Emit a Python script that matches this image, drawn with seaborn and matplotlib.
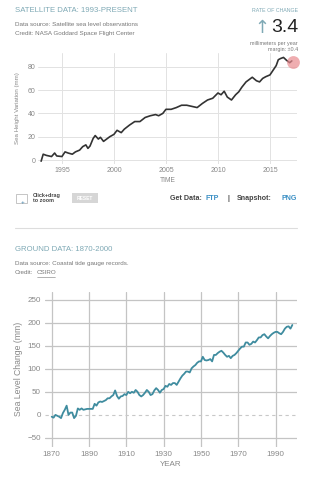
import matplotlib
matplotlib.use("Agg")
import matplotlib.pyplot as plt
import seaborn as sns
import pandas as pd
from matplotlib.patches import Rectangle

sns.set_theme(style="white")
plt.rcParams['font.family'] = ['Liberation Sans', 'DejaVu Sans']

# ---------------- data ----------------
sat_years = [1993.0, 1993.2, 1993.5, 1994.0, 1994.3, 1994.5, 1995.0, 1995.3, 1995.6,
             1996.0, 1996.3, 1996.7, 1997.0, 1997.3, 1997.5, 1997.7, 1998.0, 1998.2,
             1998.5, 1998.7, 1999.0, 1999.3, 1999.6, 2000.0, 2000.3, 2000.7, 2001.0,
             2001.5, 2002.0, 2002.5, 2003.0, 2003.5, 2004.0, 2004.3, 2004.7, 2005.0,
             2005.5, 2006.0, 2006.5, 2007.0, 2007.5, 2008.0, 2008.5, 2009.0, 2009.5,
             2010.0, 2010.3, 2010.6, 2010.9, 2011.3, 2011.7, 2012.0, 2012.3, 2012.7,
             2013.0, 2013.3, 2013.7, 2014.0, 2014.3, 2014.6, 2015.0, 2015.3, 2015.6,
             2015.8, 2016.0, 2016.3, 2016.6, 2016.9, 2017.1]
sat_values = [-1, 5, 4, 3, 6, 3.5, 3, 7, 6,
              5, 7, 8.5, 11.5, 13, 10, 12, 18.5, 21,
              18, 19.5, 16, 18, 20, 22, 25.5, 23.5, 26.5,
              30, 33, 33, 36.5, 38, 39, 38, 40, 43.5,
              43.5, 45, 47, 47, 46, 45, 48.5, 51.5, 53,
              57.5, 56, 59, 54, 51.5, 56, 58.5, 62.5, 67,
              69, 71, 68, 67, 70, 71.5, 73, 77, 81,
              86, 87, 88, 85.5, 83.5, 85]

gnd_years = list(range(1870, 2000))
gnd_values = [-4, -6, 0, -2, -4, -7, 4, 11, 20, 0,
              5, 5, -7, -2, 14, 11, 14, 11, 12, 13,
              13, 13, 13, 24, 20, 27, 29, 28, 30, 32,
              36, 36, 40, 43, 53, 41, 35, 40, 41, 45,
              43, 50, 47, 50, 48, 54, 50, 43, 40, 43,
              48, 54, 50, 43, 45, 53, 58, 54, 48, 54,
              56, 63, 61, 67, 65, 69, 69, 65, 72, 79,
              85, 89, 94, 94, 92, 101, 105, 108, 113, 116,
              116, 126, 119, 118, 119, 121, 116, 130, 130, 134,
              137, 139, 135, 130, 126, 128, 123, 128, 130, 134,
              139, 144, 148, 148, 157, 157, 152, 154, 159, 157,
              162, 168, 168, 173, 175, 170, 166, 171, 175, 178,
              180, 180, 177, 175, 180, 187, 191, 192, 187, 195]

sat_xticks = [1995, 2000, 2005, 2010, 2015]
sat_yticks = [0, 20, 40, 60, 80]
gnd_xticks = [1870, 1890, 1910, 1930, 1950, 1970, 1990]
gnd_yticks = [-50, 0, 50, 100, 150, 200, 250]

sat_df = pd.DataFrame({"TIME": sat_years, "value": sat_values})
gnd_df = pd.DataFrame({"YEAR": gnd_years, "value": gnd_values})

W, H = 323, 480
fig = plt.figure(figsize=(W / 100, H / 100), dpi=100)
fig.patch.set_facecolor("white")

def fx(px):
    return px / W

def fy(py):
    return 1 - py / H

title_col = "#7fa9b5"
grey_txt = "#777777"
tick_col = "#888888"

# ---------------- top: satellite ----------------
ax1 = fig.add_axes([fx(38), fy(164), fx(297) - fx(38), fy(53) - fy(164)])
sns.lineplot(data=sat_df, x="TIME", y="value", ax=ax1, color="#333333", lw=1.2)
ax1.set_xlim(1992.7, 2017.6)
ax1.set_ylim(-3.4, 91.8)
ax1.set_xticks(sat_xticks)
ax1.set_yticks(sat_yticks)
ax1.grid(True, color="#e2e2e2", lw=0.7)
for s in ax1.spines.values():
    s.set_visible(False)
ax1.tick_params(axis="both", length=0, labelsize=5.0, colors=tick_col, pad=2)
ax1.set_xlabel("TIME", fontsize=4.8, color=tick_col, labelpad=2)
ax1.set_ylabel("Sea Height Variation (mm)", fontsize=4.4, color=tick_col, labelpad=5)
ax1.scatter([sat_years[-1] + 0.15], [sat_values[-1] - 0.5], s=85, color="#e98a8f",
            alpha=0.7, zorder=5, linewidths=0, clip_on=False)

fig.text(fx(15), fy(11), "SATELLITE DATA: 1993-PRESENT", fontsize=5.6,
         color=title_col, va="center", ha="left")
fig.text(fx(15), fy(25), "Data source: Satellite sea level observations",
         fontsize=4.5, color=grey_txt, va="center")
fig.text(fx(15), fy(34), "Credit: NASA Goddard Space Flight Center",
         fontsize=4.5, color=grey_txt, va="center")
fig.text(fx(298), fy(11), "RATE OF CHANGE", fontsize=3.8, color=title_col,
         va="center", ha="right")
fig.text(fx(298), fy(28), "3.4", fontsize=14, color="#222222", va="center", ha="right")
fig.text(fx(269), fy(28), "\u2191", fontsize=13, color=title_col, va="center",
         ha="right", family=["DejaVu Sans"])
fig.text(fx(298), fy(43), "millimeters per year", fontsize=3.9, color=grey_txt,
         va="center", ha="right")
fig.text(fx(298), fy(49.5), "margin: \u00b10.4", fontsize=3.9, color=grey_txt,
         va="center", ha="right")

# controls row
fig.patches.append(Rectangle((fx(16), fy(203)), fx(11), fy(194) - fy(203),
                             transform=fig.transFigure, fill=False,
                             edgecolor="#bbbbbb", lw=0.6))
fig.text(fx(23), fy(203), "+", fontsize=4.5, color="#3a7fa8", va="center", ha="center")
fig.text(fx(33), fy(195), "Click+drag", fontsize=3.9, color="#444444",
         va="center", weight="bold")
fig.text(fx(33), fy(201), "to zoom", fontsize=3.9, color="#444444",
         va="center", weight="bold")
fig.patches.append(Rectangle((fx(72), fy(203)), fx(26), fy(193) - fy(203),
                             transform=fig.transFigure, facecolor="#d6d6d6",
                             edgecolor="none"))
fig.text(fx(85), fy(198), "RESET", fontsize=3.5, color="white", va="center",
         ha="center", weight="bold")
parts = [("Get Data:", "#444444", 170), ("FTP", "#3a8fc4", 205),
         ("|", "#444444", 227), ("Snapshot:", "#444444", 237), ("PNG", "#3a8fc4", 281)]
for t, c, x in parts:
    fig.text(fx(x), fy(198.5), t, fontsize=5.1, color=c, va="center",
             ha="left", weight="bold")

fig.add_artist(plt.Line2D([fx(15), fx(297)], [fy(228), fy(228)],
                          transform=fig.transFigure, color="#dddddd", lw=0.8))

# ---------------- bottom: ground ----------------
fig.text(fx(15), fy(249), "GROUND DATA: 1870-2000", fontsize=5.6,
         color=title_col, va="center", ha="left")
fig.text(fx(15), fy(264), "Data source: Coastal tide gauge records.",
         fontsize=4.5, color=grey_txt, va="center")
fig.text(fx(15), fy(273), "Credit:", fontsize=4.5, color=grey_txt, va="center")
fig.text(fx(37), fy(273), "CSIRO", fontsize=4.5, color=grey_txt, va="center")
fig.add_artist(plt.Line2D([fx(37), fx(55)], [fy(277), fy(277)],
                          transform=fig.transFigure, color=grey_txt, lw=0.4))

ax2 = fig.add_axes([fx(45), fy(446.7), fx(297) - fx(45), fy(292) - fy(446.7)])
ax2.axhline(0, color="#c8c8c8", lw=0.8, ls=(0, (3, 3)), zorder=1)
sns.lineplot(data=gnd_df, x="YEAR", y="value", ax=ax2, color="#3f8c9f", lw=1.3, zorder=3)
ax2.set_xlim(1866.4, 2001.5)
ax2.set_ylim(-69, 266.5)
ax2.set_xticks(gnd_xticks)
ax2.set_yticks(gnd_yticks)
ax2.grid(True, color="#c4c4c4", lw=0.9)
for gl in ax2.get_ygridlines():
    if abs(gl.get_ydata()[0]) < 1e-9:
        gl.set_visible(False)
for s in ax2.spines.values():
    s.set_visible(False)
ax2.tick_params(axis="both", length=0, labelsize=5.8, colors=tick_col, pad=3)
ax2.set_xlabel("YEAR", fontsize=5.8, color=tick_col, labelpad=2)
ax2.set_ylabel("Sea Level Change (mm)", fontsize=6.2, color=tick_col, labelpad=3)

fig.savefig("out.png", dpi=100, facecolor="white")
